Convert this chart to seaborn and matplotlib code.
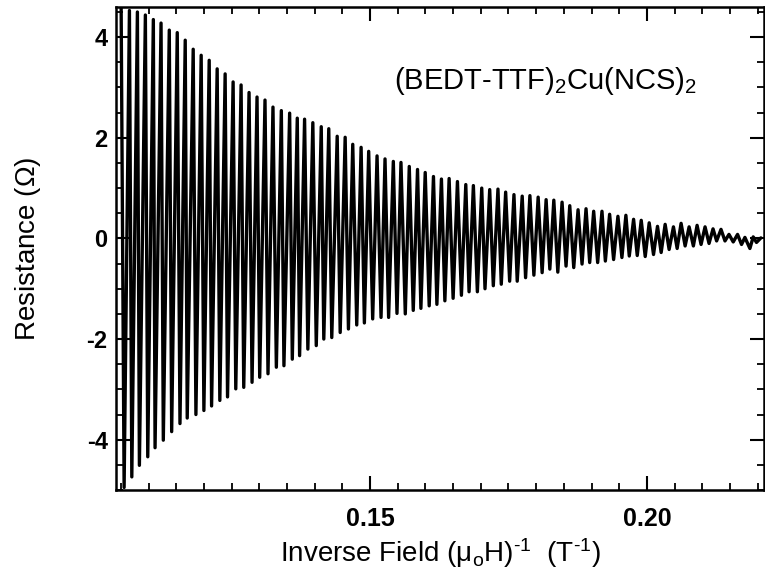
import numpy as np
import pandas as pd
import matplotlib
matplotlib.use("Agg")
import matplotlib.pyplot as plt
from matplotlib.ticker import MultipleLocator, FixedLocator
import seaborn as sns

# Oscillation maxima (inverse field in 1/T, resistance in Ohm)
peak_x = [0.10503, 0.10653, 0.10797, 0.10941, 0.11085, 0.11224, 0.11373, 0.11517, 0.11661, 0.11805,
          0.11949, 0.12094, 0.12238, 0.12382, 0.12526, 0.12670, 0.12814, 0.12958, 0.13102, 0.13246,
          0.13397, 0.13547, 0.13685, 0.13817, 0.13966, 0.14118, 0.14254, 0.14406, 0.14550, 0.14687,
          0.14838, 0.14975, 0.15126, 0.15270, 0.15420, 0.15558, 0.15708, 0.15857, 0.15996, 0.16145,
          0.16289, 0.16428, 0.16578, 0.16729, 0.16866, 0.17017, 0.17161, 0.17310, 0.17449, 0.17599,
          0.17748, 0.17887, 0.18036, 0.18180, 0.18319, 0.18468, 0.18607, 0.18757, 0.18901, 0.19039,
          0.19189, 0.19327, 0.19477, 0.19621, 0.19760, 0.19898, 0.20042, 0.20192, 0.20330, 0.20480,
          0.20618, 0.20763, 0.20907, 0.21051, 0.21195, 0.21339, 0.21483, 0.21638, 0.21771, 0.21921,
          0.22059]
peak_r = [4.65, 4.53, 4.50, 4.44, 4.35, 4.28, 4.14, 4.09, 3.94, 3.76,
          3.64, 3.54, 3.37, 3.27, 3.11, 3.05, 2.90, 2.81, 2.75, 2.61,
          2.54, 2.49, 2.39, 2.37, 2.30, 2.22, 2.18, 2.03, 2.01, 1.87,
          1.81, 1.73, 1.64, 1.58, 1.53, 1.51, 1.43, 1.37, 1.31, 1.23,
          1.18, 1.19, 1.13, 1.07, 1.05, 1.00, 0.97, 0.98, 0.92, 0.87,
          0.84, 0.85, 0.82, 0.77, 0.76, 0.72, 0.65, 0.57, 0.59, 0.54,
          0.54, 0.48, 0.44, 0.46, 0.38, 0.36, 0.31, 0.24, 0.28, 0.23,
          0.30, 0.23, 0.26, 0.23, 0.19, 0.18, 0.08, 0.08, 0.02, 0.03,
          0.01]

# Oscillation minima
trough_x = [0.10557, 0.10696, 0.10833, 0.10984, 0.11116, 0.11265, 0.11416, 0.11566, 0.11697, 0.11854,
            0.11998, 0.12137, 0.12286, 0.12425, 0.12574, 0.12718, 0.12868, 0.13006, 0.13156, 0.13307,
            0.13444, 0.13595, 0.13727, 0.13876, 0.14028, 0.14164, 0.14308, 0.14460, 0.14609, 0.14759,
            0.14897, 0.15047, 0.15198, 0.15335, 0.15486, 0.15636, 0.15780, 0.15918, 0.16068, 0.16207,
            0.16351, 0.16500, 0.16650, 0.16788, 0.16938, 0.17076, 0.17226, 0.17370, 0.17521, 0.17658,
            0.17809, 0.17959, 0.18108, 0.18247, 0.18391, 0.18540, 0.18679, 0.18829, 0.18967, 0.19111,
            0.19250, 0.19399, 0.19549, 0.19682, 0.19826, 0.19970, 0.20120, 0.20258, 0.20402, 0.20547,
            0.20691, 0.20840, 0.20979, 0.21123, 0.21260, 0.21411, 0.21560, 0.21710, 0.21861, 0.21980]
trough_r = [-4.95, -4.74, -4.51, -4.34, -4.16, -4.01, -3.84, -3.68, -3.57, -3.50,
            -3.42, -3.33, -3.22, -3.15, -2.99, -2.96, -2.86, -2.76, -2.69, -2.56,
            -2.53, -2.40, -2.33, -2.20, -2.13, -2.00, -1.97, -1.87, -1.80, -1.72,
            -1.68, -1.60, -1.57, -1.57, -1.49, -1.50, -1.43, -1.39, -1.34, -1.31,
            -1.24, -1.19, -1.13, -1.06, -1.06, -1.00, -0.94, -0.91, -0.85, -0.85,
            -0.78, -0.73, -0.68, -0.61, -0.67, -0.55, -0.58, -0.51, -0.48, -0.48,
            -0.45, -0.42, -0.38, -0.35, -0.34, -0.36, -0.32, -0.28, -0.22, -0.20,
            -0.15, -0.15, -0.12, -0.10, -0.05, -0.05, -0.07, -0.12, -0.20, -0.08]

y_ticks = [-4, -2, 0, 2, 4]
x_ticks = [0.15, 0.20]
x_tick_labels = ["0.15", "0.20"]
compound = r"(BEDT-TTF)$\mathregular{_2}$Cu(NCS)$\mathregular{_2}$"
x_title = "Inverse Field ($\\mathregular{\\mu_oH)^{\u20101}}$  (T$\\mathregular{^{\u20101}}$)"
y_title = r"Resistance ($\Omega$)"

df = pd.DataFrame({"x": peak_x + trough_x, "r": peak_r + trough_r}).sort_values("x")

sns.set_theme(style="ticks")
plt.rcParams["font.family"] = ["Liberation Sans", "DejaVu Sans"]
plt.rcParams["mathtext.fontset"] = "custom"
plt.rcParams["mathtext.rm"] = "Liberation Sans"
plt.rcParams["mathtext.it"] = "Liberation Sans:italic"
plt.rcParams["mathtext.bf"] = "Liberation Sans:bold"
plt.rcParams["mathtext.fallback"] = "cm"
plt.rcParams["axes.unicode_minus"] = False

fig = plt.figure(figsize=(7.65, 5.72), dpi=100)
ax = fig.add_axes([0.1516, 0.1434, 0.8474, 0.8444])

sns.lineplot(data=df, x="x", y="r", ax=ax, color="black", linewidth=2.4,
             estimator=None, sort=True)

ax.set_xlim(0.1041, 0.2212)
ax.set_ylim(-5.0, 4.6)

ax.xaxis.set_major_locator(FixedLocator(x_ticks))
ax.set_xticklabels(x_tick_labels)
ax.xaxis.set_minor_locator(MultipleLocator(0.005))
ax.yaxis.set_major_locator(FixedLocator(y_ticks))
ax.yaxis.set_minor_locator(MultipleLocator(0.5))

ax.tick_params(which="both", direction="in", top=True, right=True, color="black",
               labelcolor="black")
ax.tick_params(which="major", length=10, width=1.5)
ax.tick_params(which="minor", length=5, width=1.3)
ax.tick_params(axis="x", which="major", labelsize=18, pad=12)
ax.tick_params(axis="y", which="major", labelsize=17, pad=6)
for lab in ax.get_xticklabels() + ax.get_yticklabels():
    lab.set_fontweight("bold")

for s in ax.spines.values():
    s.set_linewidth(1.8)
    s.set_color("black")

ax.set_xlabel(x_title, fontsize=20, color="black")
ax.set_ylabel(y_title, fontsize=20, color="black")
ax.xaxis.set_label_coords(0.5, -0.095)
ax.yaxis.set_label_coords(-0.113, 0.5)

ax.text(0.15438, 3.13, compound, fontsize=21, color="black", ha="left", va="center")

fig.savefig("out.png", dpi=100)
